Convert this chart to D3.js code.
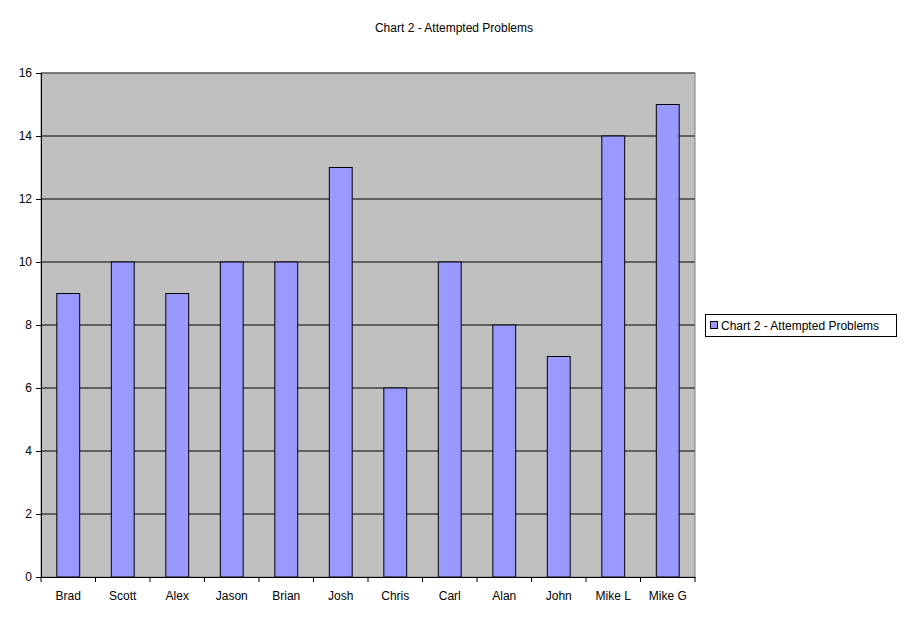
<!DOCTYPE html>
<html><head><meta charset="utf-8">
<script src="https://cdn.jsdelivr.net/npm/d3@7"></script>
<style>body{margin:0;background:#fff}svg{display:block;font-family:"Liberation Sans",Arial,sans-serif}</style>
</head><body><svg id="c" width="908" height="623"></svg>
<script>
const categories = ["Brad","Scott","Alex","Jason","Brian","Josh","Chris","Carl","Alan","John","Mike L","Mike G"];
const values = [9,10,9,10,10,13,6,10,8,7,14,15];
const yTicks = [0,2,4,6,8,10,12,14,16];
const seriesName = "Chart 2 - Attempted Problems";

const svg = d3.select("#c");
const L=41,R=695,T=73,B=577;
const x = d3.scaleBand().domain(categories).range([L,R]).paddingInner(0.58).paddingOuter(0.29);
const y = d3.scaleLinear().domain([0,16]).range([B,T]);

svg.append("rect").attr("x",L).attr("y",T).attr("width",R-L).attr("height",B-T).attr("fill","#c0c0c0");
svg.append("g").selectAll("line").data(yTicks.slice(1)).join("line")
  .attr("x1",L).attr("x2",R).attr("y1",d=>y(d)).attr("y2",d=>y(d)).attr("stroke","#000");
svg.append("rect").attr("x",L).attr("y",T).attr("width",R-L).attr("height",B-T).attr("fill","none").attr("stroke","#808080");

svg.append("g").selectAll("rect").data(values).join("rect")
  .attr("x",(d,i)=>x(categories[i])).attr("width",x.bandwidth())
  .attr("y",d=>y(d)).attr("height",d=>B-y(d))
  .attr("fill","#9999ff").attr("stroke","#000").attr("stroke-width",1);

const ya = svg.append("g").attr("transform",`translate(${L},0)`)
  .call(d3.axisLeft(y).tickValues(yTicks).tickSize(5).tickPadding(4));
const step = x.step();
const xa = svg.append("g").attr("transform",`translate(0,${B})`)
  .call(d3.axisBottom(x).tickSize(0).tickPadding(14));
xa.selectAll(".tick").append("line").attr("stroke","#000")
  .attr("x1",-step/2).attr("x2",-step/2).attr("y1",0).attr("y2",5);
xa.append("line").attr("stroke","#000").attr("x1",R).attr("x2",R).attr("y1",0).attr("y2",5);
[ya,xa].forEach(a=>{a.selectAll("text").attr("font-size",12).attr("fill","#000").style("font-family","Liberation Sans, Arial");
  a.selectAll(".domain").attr("stroke","#000");});

svg.append("text").attr("x",454).attr("y",32).attr("text-anchor","middle").attr("font-size",12).text(seriesName);

const lg = svg.append("g");
lg.append("rect").attr("x",705.5).attr("y",314.5).attr("width",191).attr("height",22).attr("fill","#fff").attr("stroke","#000");
lg.append("rect").attr("x",710.5).attr("y",321.5).attr("width",7).attr("height",7).attr("fill","#9999ff").attr("stroke","#000");
lg.append("text").attr("x",721).attr("y",330).attr("font-size",12).text(seriesName);
</script></body></html>
